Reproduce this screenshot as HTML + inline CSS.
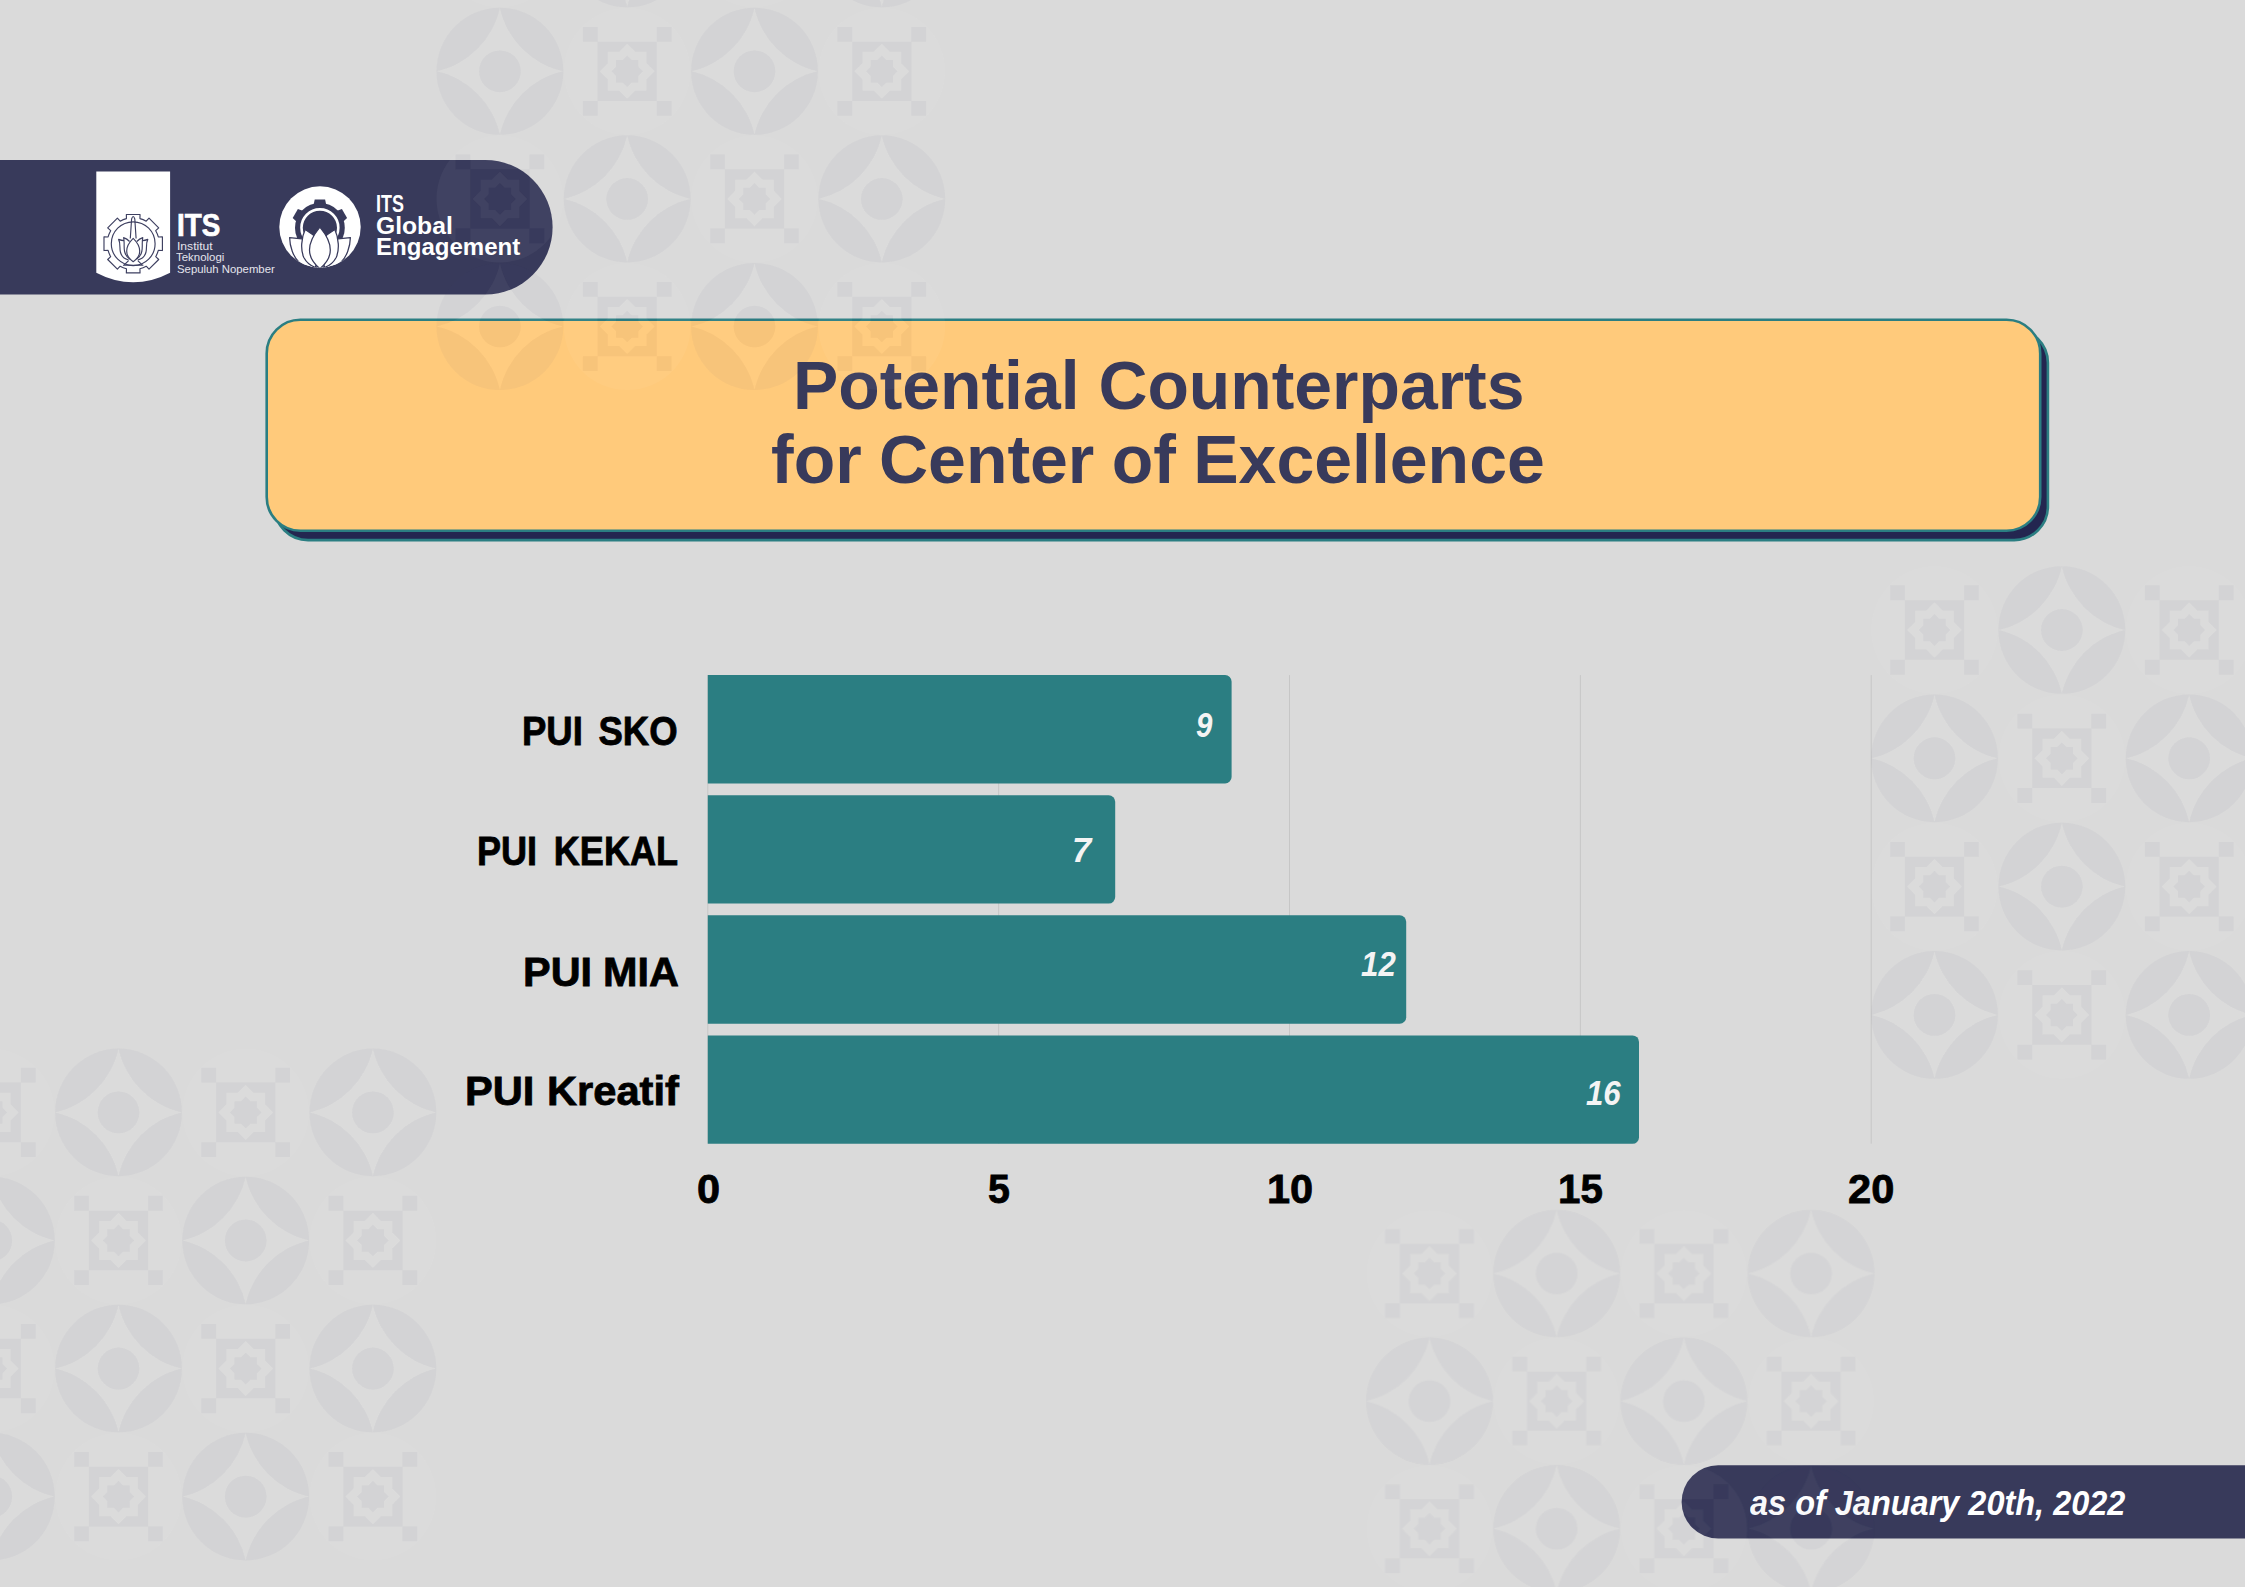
<!DOCTYPE html>
<html><head><meta charset="utf-8"><title>Potential Counterparts for Center of Excellence</title>
<style>
html,body{margin:0;padding:0}
body{width:2245px;height:1587px;background:#dadada;position:relative;overflow:hidden;font-family:"Liberation Sans",sans-serif}
.abs{position:absolute}
.pat{position:absolute;left:0;top:0;pointer-events:none}
.pat .h{fill:#fff;fill-opacity:.043}
.pat .m{fill:#3a446e;fill-opacity:.045}
.t{position:absolute;white-space:nowrap;line-height:1;display:inline-block;transform-origin:0 0;font-family:"Liberation Sans",sans-serif}
.title{color:#383a5b}
.lab,.ax{color:#000}
.lab,.ax{-webkit-text-stroke:0.8px #000}
.itsb{-webkit-text-stroke:0.7px #fff}
.val{color:#f4f4f4}
.foot,.ge,.itsb{color:#fff}
.itss{color:#e4e4ec}
</style></head><body>
<svg class="abs" style="left:0;top:0" width="2245" height="1587" viewBox="0 0 2245 1587"><rect x="-100.00" y="160.00" width="652.60" height="134.50" rx="67.25" ry="67.25" fill="#383a5b"/><rect x="274.40" y="329.10" width="1773.50" height="211.00" rx="33.70" ry="33.70" fill="#232650" stroke="#2b7e82" stroke-width="2.6"/><rect x="266.70" y="319.70" width="1773.50" height="211.00" rx="33.70" ry="33.70" fill="#ffca7b" stroke="#2b7e82" stroke-width="2.6"/><rect x="707.30" y="675.1" width="1" height="468.5" fill="#c6c6c6"/><rect x="998.15" y="675.1" width="1" height="468.5" fill="#c6c6c6"/><rect x="1289.00" y="675.1" width="1" height="468.5" fill="#c6c6c6"/><rect x="1579.85" y="675.1" width="1" height="468.5" fill="#c6c6c6"/><rect x="1870.70" y="675.1" width="1" height="468.5" fill="#c6c6c6"/><path fill="#2b7e82" d="M707.80,675.10 H1225.10 A6.5,6.5 0 0 1 1231.60,681.60 V776.95 A6.5,6.5 0 0 1 1225.10,783.45 H707.80 Z"/><path fill="#2b7e82" d="M707.80,795.25 H1108.70 A6.5,6.5 0 0 1 1115.20,801.75 V897.10 A6.5,6.5 0 0 1 1108.70,903.60 H707.80 Z"/><path fill="#2b7e82" d="M707.80,915.30 H1399.70 A6.5,6.5 0 0 1 1406.20,921.80 V1017.15 A6.5,6.5 0 0 1 1399.70,1023.65 H707.80 Z"/><path fill="#2b7e82" d="M707.80,1035.45 H1632.50 A6.5,6.5 0 0 1 1639.00,1041.95 V1137.30 A6.5,6.5 0 0 1 1632.50,1143.80 H707.80 Z"/><rect x="1681.60" y="1465.30" width="700.00" height="73.20" rx="36.60" ry="36.60" fill="#383a5b"/></svg>
<svg class="abs" style="left:0;top:0" width="600" height="320" viewBox="0 0 600 320">
<path d="M96.3,171.6 H170.1 V272.7 Q133.2,292 96.3,272.7 Z" fill="#fff"/>
<g fill="none" stroke="#3d3f60" stroke-width="1.15" stroke-linejoin="round">
<path d="M126.47,218.59 L126.35,214.49 L140.05,214.49 L139.93,218.59 A26.00,26.00 0 0 1 146.20,221.18 L149.01,218.20 L158.70,227.89 L155.72,230.70 A26.00,26.00 0 0 1 158.31,236.97 L162.41,236.85 L162.41,250.55 L158.31,250.43 A26.00,26.00 0 0 1 155.72,256.70 L158.70,259.51 L149.01,269.20 L146.20,266.22 A26.00,26.00 0 0 1 139.93,268.81 L140.05,272.91 L126.35,272.91 L126.47,268.81 A26.00,26.00 0 0 1 120.20,266.22 L117.39,269.20 L107.70,259.51 L110.68,256.70 A26.00,26.00 0 0 1 108.09,250.43 L103.99,250.55 L103.99,236.85 L108.09,236.97 A26.00,26.00 0 0 1 110.68,230.70 L107.70,227.89 L117.39,218.20 L120.20,221.18 A26.00,26.00 0 0 1 126.47,218.59Z"/>
<circle cx="133.2" cy="243.7" r="21.9"/>
<path d="M130.3,238.5 L131.6,219 Q133.2,214 134.8,219 L136.1,238.5"/>
<path d="M133.2,238.3 C137,242 139.7,247 139.7,251 C139.7,256 136.5,259.5 133.2,261.7 C129.9,259.5 126.7,256 126.7,251 C126.7,247 129.4,242 133.2,238.3Z"/>
<path d="M129.6,241.5 C127.8,239.5 126,238.3 123.6,237.6 C124.8,242 123.5,247 124.6,251.5 C125.4,255 127.4,257.6 130,259.2"/>
<path d="M136.8,241.5 C138.6,239.5 140.4,238.3 142.8,237.6 C141.6,242 142.9,247 141.8,251.5 C141,255 139,257.6 136.4,259.2"/>
<path d="M124,240.6 C122.4,240.6 120.4,240.2 118.6,239.4 C120.6,243 119.4,248 120.4,252 C121.3,256 124.6,259 128.6,260"/>
<path d="M142.4,240.6 C144,240.6 146,240.2 147.8,239.4 C145.8,243 147,248 146,252 C145.1,256 141.8,259 137.8,260"/>
<path d="M128.6,260.6 L124,265.2 H142.4 L137.8,260.6 M123,265.2 H143.4"/>
</g></svg>
<svg class="abs" style="left:0;top:0" width="600" height="320" viewBox="0 0 600 320">
<defs><clipPath id="gc"><circle cx="320" cy="227" r="40.7"/></clipPath></defs>
<circle cx="320" cy="227" r="40.7" fill="#fff"/>
<g fill="#383a5b"><path transform="rotate(0 319.90 227.80)" d="M313.70,204.30 L314.70,199.40 L325.10,199.40 L326.10,204.30 Z"/><path transform="rotate(60 319.90 227.80)" d="M313.70,204.30 L314.70,199.40 L325.10,199.40 L326.10,204.30 Z"/><path transform="rotate(-60 319.90 227.80)" d="M313.70,204.30 L314.70,199.40 L325.10,199.40 L326.10,204.30 Z"/><circle cx="319.90" cy="227.80" r="24.9"/></g>
<circle cx="319.90" cy="227.80" r="18.4" fill="none" stroke="#fff" stroke-width="2.6"/>
<g fill="#fff" stroke="#383a5b" stroke-width="1.25" stroke-linejoin="round" clip-path="url(#gc)">
<path d="M289.6,237.6 C289.8,247 293.5,257 299,262.3 C304,266.5 310,268 316,268.6 L316,240 L302,238.8 Z"/>
<path d="M350.4,237.6 C350.2,247 346.5,257 341,262.3 C336,266.5 330,268 324,268.6 L324,240 L338,238.8 Z"/>
<path d="M305.2,229.6 C301.2,238 300.4,250 303.8,257.5 C306.5,262.5 310,265.6 315.5,267.6 L319,250 L313.3,235 Z"/>
<path d="M334.8,229.6 C338.8,238 339.6,250 336.2,257.5 C333.5,262.5 330,265.6 324.5,267.6 L321,250 L326.7,235 Z"/>
<path d="M319.9,227.2 C326,234.5 330.3,243 330.3,250 C330.3,258 325.5,264 319.9,268.6 C314.3,264 309.5,258 309.5,250 C309.5,243 313.8,234.5 319.9,227.2 Z"/>
</g></svg>
<span class="t title" id="t1" style="left:792.66px;top:351.03px;font-size:68px;font-weight:bold;transform:scaleX(0.9979)">Potential Counterparts</span>
<span class="t title" id="t2" style="left:770.54px;top:424.83px;font-size:68px;font-weight:bold;word-spacing:-1.5px;transform:scaleX(0.9997)">for Center of Excellence</span>
<span class="t lab" id="l0" style="left:522.02px;top:710.81px;font-size:40.5px;font-weight:bold;word-spacing:6px;transform:scaleX(0.9019)">PUI SKO</span>
<span class="t lab" id="l1" style="left:477.05px;top:830.71px;font-size:40.5px;font-weight:bold;word-spacing:7.5px;transform:scaleX(0.8902)">PUI KEKAL</span>
<span class="t lab" id="l2" style="left:523.11px;top:952.21px;font-size:40.5px;font-weight:bold;word-spacing:-0.5px;transform:scaleX(1.0228)">PUI MIA</span>
<span class="t lab" id="l3" style="left:464.60px;top:1070.61px;font-size:40.5px;font-weight:bold;word-spacing:1px;transform:scaleX(1.0279)">PUI Kreatif</span>
<span class="t ax" id="a0" style="left:696.80px;top:1168.51px;font-size:40.5px;font-weight:bold;transform:scaleX(1.0246)">0</span>
<span class="t ax" id="a5" style="left:988.18px;top:1168.51px;font-size:40.5px;font-weight:bold;transform:scaleX(0.9721)">5</span>
<span class="t ax" id="a10" style="left:1267.11px;top:1168.51px;font-size:40.5px;font-weight:bold;transform:scaleX(1.0251)">10</span>
<span class="t ax" id="a15" style="left:1558.08px;top:1168.51px;font-size:40.5px;font-weight:bold;transform:scaleX(0.9950)">15</span>
<span class="t ax" id="a20" style="left:1848.30px;top:1168.51px;font-size:40.5px;font-weight:bold;transform:scaleX(1.0275)">20</span>
<span class="t val" id="v0" style="left:1196.04px;top:707.69px;font-size:34.5px;font-weight:bold;font-style:italic;transform:scaleX(0.8533)">9</span>
<span class="t val" id="v1" style="left:1071.84px;top:832.79px;font-size:34.5px;font-weight:bold;font-style:italic;transform:scaleX(1.0017)">7</span>
<span class="t val" id="v2" style="left:1361.41px;top:947.39px;font-size:34.5px;font-weight:bold;font-style:italic;transform:scaleX(0.9063)">12</span>
<span class="t val" id="v3" style="left:1586.31px;top:1075.89px;font-size:34.5px;font-weight:bold;font-style:italic;transform:scaleX(0.9040)">16</span>
<span class="t foot" id="ft" style="left:1749.90px;top:1485.20px;font-size:35.2px;font-weight:bold;font-style:italic;transform:scaleX(0.9227)">as of January 20th, 2022</span>
<span class="t ge" id="g1" style="left:375.68px;top:193.23px;font-size:23px;font-weight:bold;transform:scaleX(0.7796)">ITS</span>
<span class="t ge" id="g2" style="left:376.03px;top:215.33px;font-size:23px;font-weight:bold;transform:scaleX(1.0722)">Global</span>
<span class="t ge" id="g3" style="left:375.60px;top:236.43px;font-size:23px;font-weight:bold;transform:scaleX(1.0449)">Engagement</span>
<span class="t itsb" id="itsb" style="left:176.56px;top:210.40px;font-size:31.3px;font-weight:bold;transform:scaleX(0.8887)">ITS</span>
<span class="t itss" id="s1" style="left:176.73px;top:242.16px;font-size:10.2px;transform:scaleX(1.1885)">Institut</span>
<span class="t itss" id="s2" style="left:176.48px;top:253.36px;font-size:10.2px;transform:scaleX(1.1224)">Teknologi</span>
<span class="t itss" id="s3" style="left:177.30px;top:265.06px;font-size:10.2px;transform:scaleX(1.1135)">Sepuluh Nopember</span>
<svg class="pat" width="2245" height="1587" viewBox="0 0 2245 1587"><defs><g id="mc"><path class="h" fill-rule="evenodd" d="M0,-63.40 A83.31,83.31 0 0 0 63.40,0 A83.31,83.31 0 0 0 0,63.40 A83.31,83.31 0 0 0 -63.40,0 A83.31,83.31 0 0 0 0,-63.40Z M-20.80,0 A20.80,20.80 0 1 0 20.80,0 A20.80,20.80 0 1 0 -20.80,0Z"/><g class="m"><path transform="rotate(0)" d="M0,-63.40 A63.40,63.40 0 0 1 63.40,0 A83.31,83.31 0 0 1 0,-63.40 Z"/><path transform="rotate(90)" d="M0,-63.40 A63.40,63.40 0 0 1 63.40,0 A83.31,83.31 0 0 1 0,-63.40 Z"/><path transform="rotate(180)" d="M0,-63.40 A63.40,63.40 0 0 1 63.40,0 A83.31,83.31 0 0 1 0,-63.40 Z"/><path transform="rotate(270)" d="M0,-63.40 A63.40,63.40 0 0 1 63.40,0 A83.31,83.31 0 0 1 0,-63.40 Z"/><circle r="20.8"/></g></g><g id="ms"><path class="h" fill-rule="evenodd" d="M-63.40,0 A63.40,63.40 0 1 0 63.40,0 A63.40,63.40 0 1 0 -63.40,0Z M-29.60,-29.60 H29.60 V29.60 H-29.60 Z M0.00,-27.44 L8.04,-19.40 L19.40,-19.40 L19.40,-8.04 L27.44,0.00 L19.40,8.04 L19.40,19.40 L8.04,19.40 L0.00,27.44 L-8.04,19.40 L-19.40,19.40 L-19.40,8.04 L-27.44,0.00 L-19.40,-8.04 L-19.40,-19.40 L-8.04,-19.40Z M0.00,-15.77 L4.62,-11.15 L11.15,-11.15 L11.15,-4.62 L15.77,0.00 L11.15,4.62 L11.15,11.15 L4.62,11.15 L0.00,15.77 L-4.62,11.15 L-11.15,11.15 L-11.15,4.62 L-15.77,0.00 L-11.15,-4.62 L-11.15,-11.15 L-4.62,-11.15Z M-44.30,-44.30 h14.70 v14.70 h-14.70 Z M-44.30,29.60 h14.70 v14.70 h-14.70 Z M29.60,-44.30 h14.70 v14.70 h-14.70 Z M29.60,29.60 h14.70 v14.70 h-14.70 Z"/><path class="m" fill-rule="evenodd" d="M-29.60,-29.60 H29.60 V29.60 H-29.60 Z M0.00,-27.44 L8.04,-19.40 L19.40,-19.40 L19.40,-8.04 L27.44,0.00 L19.40,8.04 L19.40,19.40 L8.04,19.40 L0.00,27.44 L-8.04,19.40 L-19.40,19.40 L-19.40,8.04 L-27.44,0.00 L-19.40,-8.04 L-19.40,-19.40 L-8.04,-19.40Z M0.00,-15.77 L4.62,-11.15 L11.15,-11.15 L11.15,-4.62 L15.77,0.00 L11.15,4.62 L11.15,11.15 L4.62,11.15 L0.00,15.77 L-4.62,11.15 L-11.15,11.15 L-11.15,4.62 L-15.77,0.00 L-11.15,-4.62 L-11.15,-11.15 L-4.62,-11.15Z M-44.30,-44.30 h14.70 v14.70 h-14.70 Z M-44.30,29.60 h14.70 v14.70 h-14.70 Z M29.60,-44.30 h14.70 v14.70 h-14.70 Z M29.60,29.60 h14.70 v14.70 h-14.70 Z"/></g></defs><g><g transform="translate(499.90,-56.30) scale(1,1.00236)" opacity="1.000"><use href="#ms" x="0.00" y="0.00"/><use href="#mc" x="127.30" y="0.00"/><use href="#ms" x="254.60" y="0.00"/><use href="#mc" x="381.90" y="0.00"/><use href="#mc" x="0.00" y="127.30"/><use href="#ms" x="127.30" y="127.30"/><use href="#mc" x="254.60" y="127.30"/><use href="#ms" x="381.90" y="127.30"/><use href="#ms" x="0.00" y="254.60"/><use href="#mc" x="127.30" y="254.60"/><use href="#ms" x="254.60" y="254.60"/><use href="#mc" x="381.90" y="254.60"/><use href="#mc" x="0.00" y="381.90"/><use href="#ms" x="127.30" y="381.90"/><use href="#mc" x="254.60" y="381.90"/><use href="#ms" x="381.90" y="381.90"/></g><g transform="translate(1934.50,630.00) scale(1,1.00746)" opacity="1.000"><use href="#ms" x="0.00" y="0.00"/><use href="#mc" x="127.35" y="0.00"/><use href="#ms" x="254.70" y="0.00"/><use href="#mc" x="382.05" y="0.00"/><use href="#mc" x="0.00" y="127.35"/><use href="#ms" x="127.35" y="127.35"/><use href="#mc" x="254.70" y="127.35"/><use href="#ms" x="382.05" y="127.35"/><use href="#ms" x="0.00" y="254.70"/><use href="#mc" x="127.35" y="254.70"/><use href="#ms" x="254.70" y="254.70"/><use href="#mc" x="382.05" y="254.70"/><use href="#mc" x="0.00" y="382.05"/><use href="#ms" x="127.35" y="382.05"/><use href="#mc" x="254.70" y="382.05"/><use href="#ms" x="382.05" y="382.05"/></g><g transform="translate(-8.70,1112.40) scale(1,1.00684)" opacity="1.000"><use href="#ms" x="0.00" y="0.00"/><use href="#mc" x="127.20" y="0.00"/><use href="#ms" x="254.40" y="0.00"/><use href="#mc" x="381.60" y="0.00"/><use href="#mc" x="0.00" y="127.20"/><use href="#ms" x="127.20" y="127.20"/><use href="#mc" x="254.40" y="127.20"/><use href="#ms" x="381.60" y="127.20"/><use href="#ms" x="0.00" y="254.40"/><use href="#mc" x="127.20" y="254.40"/><use href="#ms" x="254.40" y="254.40"/><use href="#mc" x="381.60" y="254.40"/><use href="#mc" x="0.00" y="381.60"/><use href="#ms" x="127.20" y="381.60"/><use href="#mc" x="254.40" y="381.60"/><use href="#ms" x="381.60" y="381.60"/></g><g transform="translate(1429.50,1273.50) scale(1,1.00314)" opacity="0.850"><use href="#ms" x="0.00" y="0.00"/><use href="#mc" x="127.20" y="0.00"/><use href="#ms" x="254.40" y="0.00"/><use href="#mc" x="381.60" y="0.00"/><use href="#mc" x="0.00" y="127.20"/><use href="#ms" x="127.20" y="127.20"/><use href="#mc" x="254.40" y="127.20"/><use href="#ms" x="381.60" y="127.20"/><use href="#ms" x="0.00" y="254.40"/><use href="#mc" x="127.20" y="254.40"/><use href="#ms" x="254.40" y="254.40"/><use href="#mc" x="381.60" y="254.40"/><use href="#mc" x="0.00" y="381.60"/><use href="#ms" x="127.20" y="381.60"/><use href="#mc" x="254.40" y="381.60"/><use href="#ms" x="381.60" y="381.60"/></g></g></svg>
</body></html>
